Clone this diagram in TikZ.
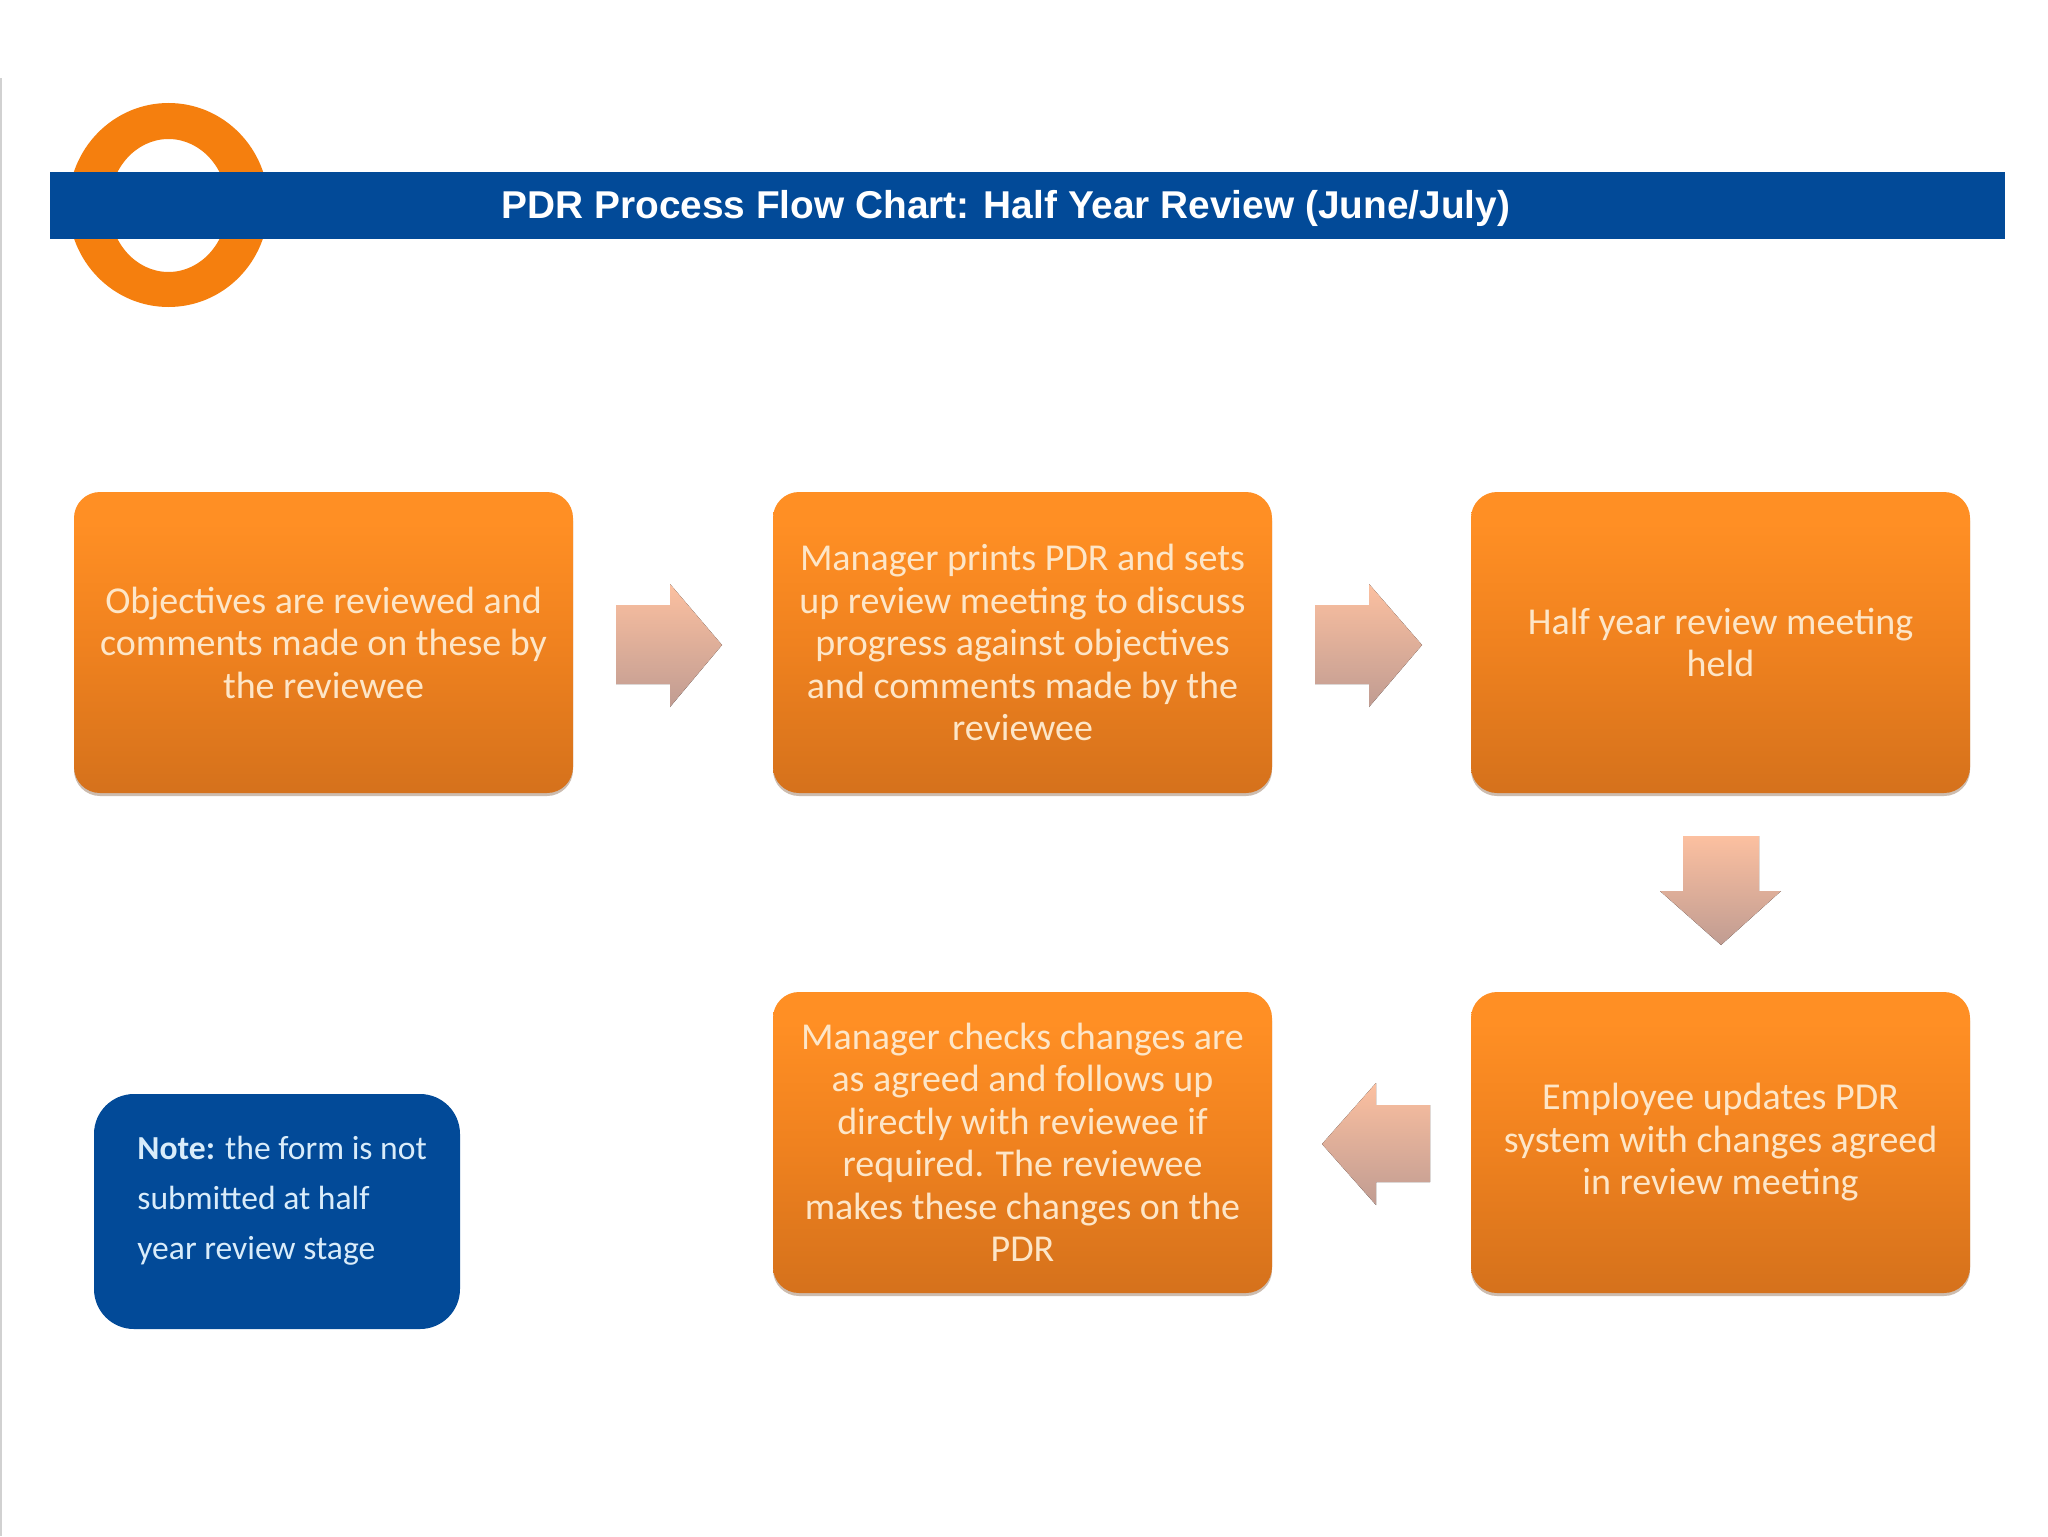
\documentclass[tikz,border=0pt]{standalone}
\usepackage{fontspec}
\setmainfont{Carlito}
\newfontfamily\titlefont{Liberation Sans}
\usetikzlibrary{shadows}
\definecolor{barblue}{HTML}{024A98}
\definecolor{ringorange}{HTML}{F57F0E}
\definecolor{boxtext}{HTML}{FDE6C8}
\definecolor{notetext}{HTML}{D9ECFA}
\definecolor{shA}{HTML}{D8741C}
\definecolor{shB}{HTML}{C26316}
\definecolor{shC}{HTML}{C96A1A}
\definecolor{shD}{HTML}{F0821F}
\definecolor{shE}{HTML}{FF8F24}
\definecolor{shF}{HTML}{FC8C22}
\pgfdeclareverticalshading{boxshade}{100bp}{
  color(0bp)=(shA);
  color(3bp)=(shB);
  color(14bp)=(shC);
  color(50bp)=(shD);
  color(70bp)=(shE);
  color(100bp)=(shF)}
\definecolor{arrowtop}{HTML}{FCC0A0}
\definecolor{arrowbot}{HTML}{C09C92}
\definecolor{boxshadow}{HTML}{9A7A60}
\tikzset{
  procbox/.style={rectangle,rounded corners=13pt,minimum width=249.5pt,minimum height=150.5pt,
    inner sep=0pt,shading=boxshade,text=boxtext,align=center,
    font=\fontsize{19}{21.25}\selectfont,
    drop shadow={shadow xshift=0pt,shadow yshift=-1.5pt,opacity=.5,fill=boxshadow}},
  peach/.style={top color=arrowtop,bottom color=arrowbot,draw=none},
}
\begin{document}
\begin{tikzpicture}[x=0.5pt,y=-0.5pt]
\useasboundingbox (0,0) rectangle (2048,1536);
\fill[white] (0,0) rectangle (2048,1536);
\fill[black!18] (0,78) rectangle (2,1536);
% ring and bar
\fill[ringorange,even odd rule] (168.5,205) ellipse [x radius=100,y radius=102] (168.5,205.5) ellipse [x radius=59,y radius=66.5];
\node (bar) at (1027.5,205.5) [rectangle,fill=barblue,minimum width=977.5pt,minimum height=33.5pt,inner sep=0pt] {};
\node (title) at (1006,208) [text=white,inner sep=0pt,font=\titlefont\bfseries\fontsize{19.4}{24}\selectfont] {PDR Process Flow Chart: Half Year Review (June/July)};
% process boxes
\node[procbox] (b1) at (323.5,642.5) {Objectives are reviewed and\\comments made on these by\\the reviewee};
\node[procbox] (b2) at (1022.5,642.5) {Manager prints PDR and sets\\up review meeting to discuss\\progress against objectives\\and comments made by the\\reviewee};
\node[procbox] (b3) at (1720.5,642.5) {Half year review meeting\\held};
\node[procbox] (b5) at (1720.5,1142.5) {Employee updates PDR\\system with changes agreed\\in review meeting};
\node[procbox] (b4) at (1022.5,1142.5) {Manager checks changes are\\as agreed and follows up\\directly with reviewee if\\required. The reviewee\\makes these changes on the\\PDR};
% block arrows
\fill[peach] (616,605) -- (670,605) -- (670,584) -- (722,645) -- (670,707) -- (670,684) -- (616,684) -- cycle;
\fill[peach] (1315,605) -- (1369,605) -- (1369,584) -- (1422,645) -- (1369,707) -- (1369,684) -- (1315,684) -- cycle;
\fill[peach] (1683,836) -- (1759,836) -- (1759,891) -- (1781,891) -- (1721,945) -- (1660,891) -- (1683,891) -- cycle;
\fill[peach] (1430,1105) -- (1376,1105) -- (1376,1083) -- (1322,1144) -- (1376,1205) -- (1376,1182) -- (1430,1182) -- cycle;
% note
\node (note) at (277,1211.5) [rectangle,rounded corners=20pt,fill=barblue,minimum width=183pt,minimum height=117.5pt,inner sep=0pt] {};
\node (notetxt) at (137,1201) [anchor=west,inner sep=0pt,text=notetext,align=left,font=\fontsize{16.8}{25}\selectfont] {\textbf{Note:} the form is not\\submitted at half\\year review stage};
\end{tikzpicture}
\end{document}
